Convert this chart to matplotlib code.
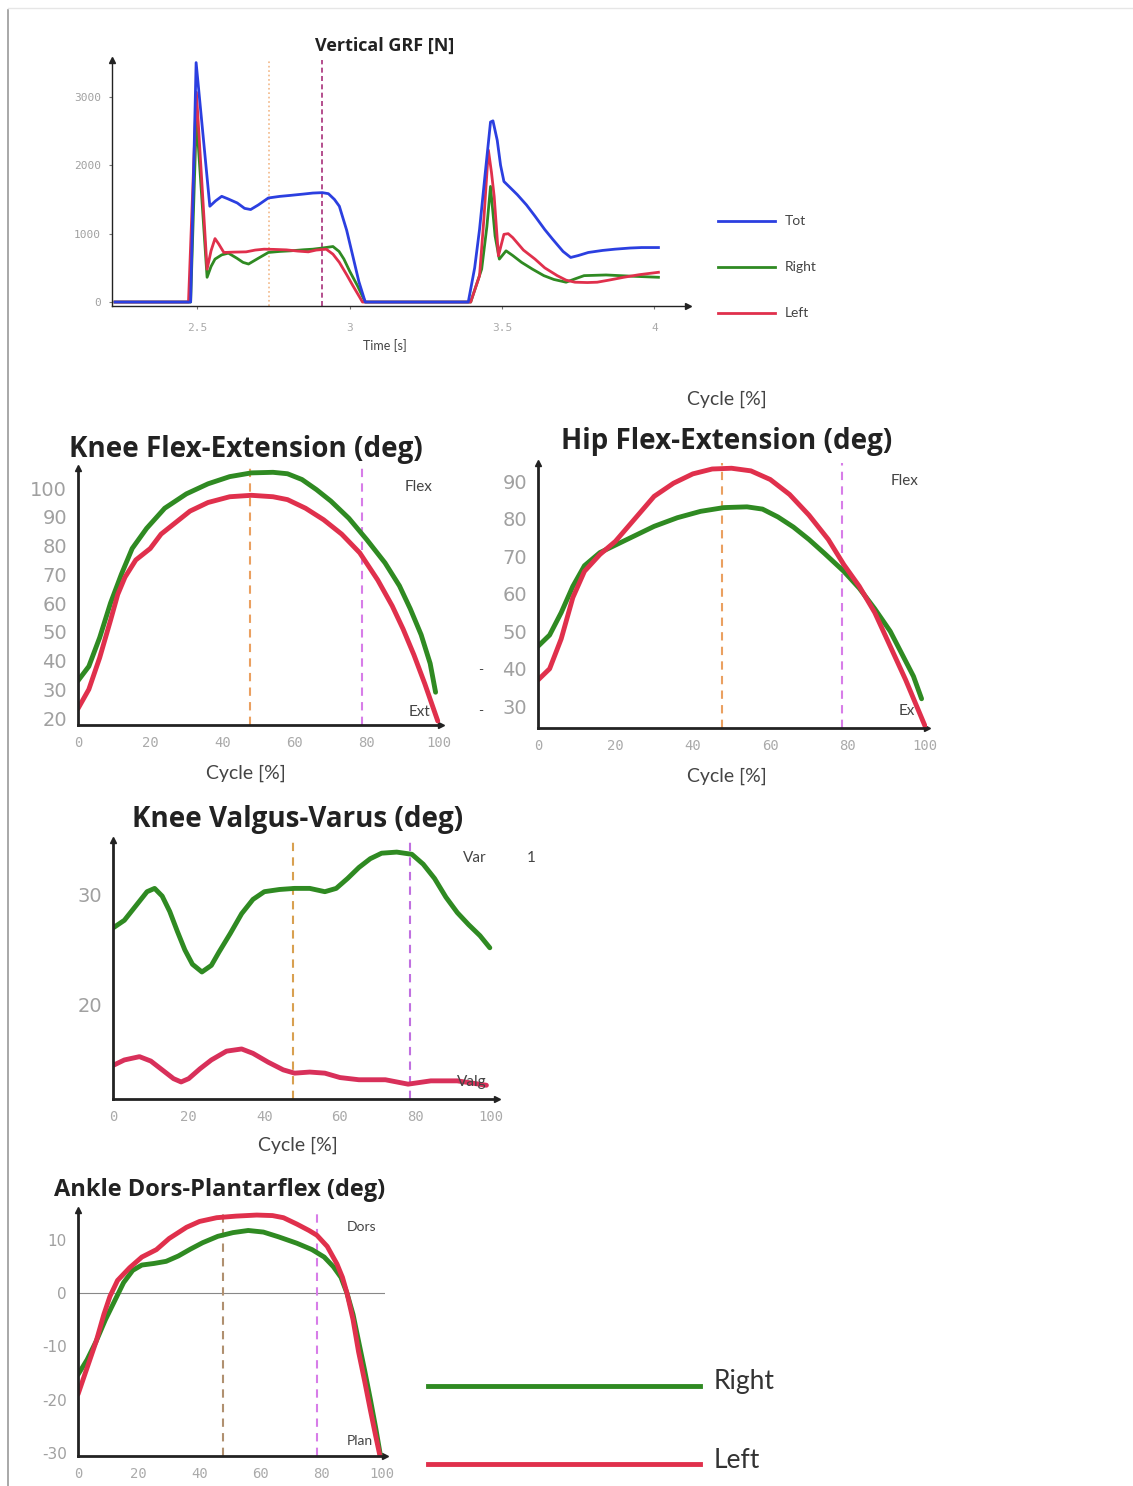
import numpy as np
import matplotlib.pyplot as plt
from matplotlib.lines import Line2D

plt.rcParams['axes.unicode_minus'] = False

# ---- datos ----
# Vertical GRF [N]
t_tot = [2.23, 2.478, 2.496, 2.541, 2.56, 2.58, 2.60, 2.631, 2.655, 2.675, 2.70, 2.733, 2.77, 2.806, 2.85,
         2.879, 2.91, 2.93, 2.95, 2.966, 2.99, 3.01, 3.03, 3.051,
         3.389, 3.41, 3.426, 3.445, 3.462, 3.47, 3.484, 3.495, 3.506, 3.525, 3.55, 3.58, 3.608, 3.64,
         3.666, 3.70, 3.725, 3.75, 3.783, 3.83, 3.87, 3.92, 3.958, 4.013]
f_tot = [0, 0, 3502, 1401, 1480, 1546, 1510, 1449, 1370, 1353, 1420, 1522, 1545, 1560, 1580,
         1594, 1600, 1585, 1500, 1401, 1050, 676, 300, 0,
         0, 500, 1063, 1900, 2633, 2650, 2367, 2000, 1763, 1680, 1570, 1420, 1256, 1060,
         918, 740, 652, 680, 725, 755, 773, 790, 797, 797]
t_left = [2.23, 2.471, 2.497, 2.532, 2.545, 2.558, 2.57, 2.587, 2.62, 2.66, 2.69, 2.719, 2.75, 2.792,
          2.83, 2.864, 2.89, 2.923, 2.945, 2.966, 2.99, 3.01, 3.042,
          3.397, 3.426, 3.44, 3.455, 3.465, 3.474, 3.488, 3.506, 3.52, 3.535, 3.57, 3.608, 3.64, 3.681,
          3.71, 3.739, 3.78, 3.812, 3.85, 3.899, 3.95, 4.013]
f_left = [0, 0, 3068, 480, 750, 928, 850, 725, 730, 734, 760, 773, 770, 763,
          745, 734, 760, 773, 700, 580, 400, 242, 0,
          0, 386, 1200, 2222, 1900, 1546, 676, 990, 1000, 942, 760, 628, 500, 386,
          320, 290, 285, 290, 320, 362, 400, 435]
t_right = [2.23, 2.478, 2.497, 2.532, 2.545, 2.558, 2.58, 2.602, 2.63, 2.65, 2.668, 2.70, 2.733, 2.77,
           2.806, 2.85, 2.879, 2.91, 2.945, 2.965, 2.981, 3.0, 3.025, 3.051,
           3.397, 3.433, 3.45, 3.462, 3.477, 3.491, 3.513, 3.535, 3.564, 3.60, 3.637, 3.67, 3.71, 3.74,
           3.769, 3.841, 3.929, 4.013]
f_right = [0, 0, 2705, 362, 520, 628, 690, 715, 640, 580, 556, 640, 725, 740,
           749, 765, 773, 790, 812, 740, 628, 450, 242, 0,
           0, 483, 1100, 1691, 966, 628, 749, 680, 580, 480, 386, 330, 290, 340,
           386, 396, 377, 362]
grf_events = [2.734, 2.908]

# Knee Flex-Extension
kf_x_r = [0, 3, 6, 9, 12, 15, 19, 24, 30, 36, 42, 48, 54, 58, 62, 66, 70, 75, 80, 85, 89, 92, 95, 97.5, 99]
kf_r = [33, 38, 48, 60, 70, 79, 86, 93, 98, 101.5, 104, 105.3, 105.5, 105, 103, 99.5, 95.5, 89.5, 82,
        74, 66, 58, 49, 39, 29]
kf_x_l = [0, 3, 6, 9, 11, 13, 16, 20, 23, 27, 31, 36, 42, 48, 54, 58, 63, 68, 73, 78, 83, 87, 90, 93,
          96, 99.6]
kf_l = [23.3, 30, 41, 54, 63, 69, 75, 79, 84, 88, 92, 95, 97, 97.5, 97, 96, 93, 89, 84, 77.5, 68, 59,
        51, 42, 32, 19]

# Hip Flex-Extension
hf_x_r = [0, 3, 6, 9, 12, 16, 20, 25, 30, 36, 42, 48, 54, 58, 62, 66, 70, 74, 79, 83, 87, 91, 94, 97, 99.1]
hf_r = [46, 49, 55, 62, 67.5, 71, 73, 75.5, 78, 80.3, 82, 83, 83.2, 82.6, 80.5, 77.8, 74.5, 70.8, 66,
        61.5, 56, 50, 44, 38, 32]
hf_x_l = [0, 3, 6, 9, 12, 16, 20, 25, 30, 35, 40, 45, 50, 55, 60, 65, 70, 75, 79, 83, 87, 91, 95, 100]
hf_l = [37, 40, 48, 59, 66, 70.5, 74, 80, 86, 89.5, 92, 93.3, 93.5, 92.8, 90.5, 86.5, 81, 74.5, 67.8,
        62, 55, 46, 37, 24.7]

# Knee Valgus-Varus
kv_x_r = [0, 3, 6, 9, 11, 13, 15, 17, 19, 21, 23.5, 26, 28, 31, 34, 37, 40, 44, 48, 52, 56, 59, 62, 65,
          68, 71, 75, 79, 82, 85, 88, 91, 94, 97, 99.6]
kv_r = [27, 27.7, 29, 30.3, 30.6, 29.9, 28.5, 26.7, 25, 23.7, 23, 23.6, 24.8, 26.5, 28.3, 29.6, 30.3,
        30.5, 30.6, 30.6, 30.3, 30.6, 31.5, 32.5, 33.3, 33.8, 33.9, 33.7, 32.8, 31.5, 29.8, 28.4, 27.3,
        26.3, 25.2]
kv_x_l = [0, 3, 7, 10, 13, 16, 18, 20, 23, 26, 30, 34, 37, 41, 45, 48, 52, 56, 60, 65, 72, 78, 84, 91, 98.7]
kv_l = [14.5, 15, 15.3, 14.9, 14.1, 13.3, 13, 13.3, 14.2, 15, 15.8, 16, 15.6, 14.8, 14.1, 13.8, 13.9,
        13.8, 13.4, 13.2, 13.2, 12.8, 13.1, 13.1, 12.7]

# Ankle Dors-Plantarflex
an_x_r = [0, 3, 6, 9, 12, 15, 18, 21, 25, 29, 33, 37, 41, 46, 51, 56, 61, 66, 72, 77, 81, 84, 86.5,
          88.5, 90.5, 92.3, 94.3, 96.2, 98, 99.5]
an_r = [-15.3, -12.5, -9, -5, -1.5, 2, 4.3, 5.3, 5.6, 6, 7, 8.3, 9.5, 10.7, 11.4, 11.8, 11.5, 10.6, 9.4,
        8.2, 6.8, 5, 3, 0, -4, -9, -14.5, -20, -25.5, -30.5]
an_x_l = [0, 3, 6, 8.5, 10.5, 13, 17, 21, 25.8, 30, 35.7, 40, 45.6, 52, 58.8, 64, 67.6, 72, 76, 78.6,
          82, 85.2, 87, 88.5, 90.5, 92.3, 94.3, 96.2, 98, 99.5]
an_l = [-19, -14, -9, -4, -0.6, 2.4, 4.8, 6.8, 8.2, 10.3, 12.4, 13.5, 14.2, 14.5, 14.7, 14.6, 14.2, 13,
        11.8, 10.9, 8.8, 5.5, 3, 0, -5, -11, -16.5, -22, -27, -31]

cycle_events = [47.6, 78.6]

C_TOT = '#2b3fe0'
C_R = '#2f8a22'
C_L = '#e0304c'

W, H = 1133, 1486
fig = plt.figure(figsize=(W / 100, H / 100), dpi=100)

TITLE = dict(family='Open Sans', weight='bold', color='#222222', ha='center', va='center')
LAB = dict(family='Lato', color='#444444', ha='center', va='center')


def add_ax(x0, y0, x1, y1):
    return fig.add_axes([x0 / W, 1 - y1 / H, (x1 - x0) / W, (y1 - y0) / H])


def ftxt(x, y, s, **kw):
    fig.text(x / W, 1 - y / H, s, **kw)


def style(ax, xlim, ylim, xt, yt, xfs, yfs, xpad=8, ypad=8):
    ax.set_xlim(*xlim)
    ax.set_ylim(*ylim)
    ax.patch.set_alpha(0)
    for s in ['top', 'right']:
        ax.spines[s].set_visible(False)
    for s in ['left', 'bottom']:
        ax.spines[s].set_color('#222222')
        ax.spines[s].set_linewidth(2)
    ax.plot(1, 0, '>', color='#222222', ms=5, transform=ax.transAxes, clip_on=False)
    ax.plot(0, 1, '^', color='#222222', ms=5, transform=ax.transAxes, clip_on=False)
    ax.set_xticks(xt)
    ax.set_yticks(yt)
    ax.tick_params(axis='x', length=0, colors='#aaaaaa', labelsize=xfs, pad=xpad)
    ax.tick_params(axis='y', length=0, colors='#a0a0a0', labelsize=yfs, pad=ypad)
    for lb in ax.get_xticklabels():
        lb.set_family('DejaVu Sans Mono')


def curve(ax, x, y, c):
    ax.plot(x, y, color=c, lw=3.5, solid_joinstyle='round', solid_capstyle='round')


# borde de la captura
fig.add_artist(Line2D([8 / W, 8 / W], [0, 1 - 10 / H], color='#9a9a9a', lw=1.2))
fig.add_artist(Line2D([8 / W, 1], [1 - 8 / H, 1 - 8 / H], color='#e6e6e6', lw=1))

# ---- Vertical GRF ----
ax = add_ax(112, 60, 688, 306)
style(ax, (2.22, 4.11), (-58, 3540), [2.5, 3, 3.5, 4], [0, 1000, 2000, 3000], 8, 8, xpad=10, ypad=6)
ax.set_xticklabels(['2.5', '3', '3.5', '4'])
for lb in ax.get_yticklabels():
    lb.set_family('DejaVu Sans Mono')
ax.spines['left'].set_linewidth(1)
ax.spines['bottom'].set_linewidth(1)
ax.tick_params(length=2, color='#777777')
ax.axvline(grf_events[0], color='#f2b888', lw=1.2, ls=':')
ax.axvline(grf_events[1], color='#a8307a', lw=1.2, ls=(0, (3, 2)))
ax.plot(t_right, f_right, color=C_R, lw=2, solid_joinstyle='round')
ax.plot(t_left, f_left, color=C_L, lw=2, solid_joinstyle='round')
ax.plot(t_tot, f_tot, color=C_TOT, lw=2, solid_joinstyle='round')
ftxt(385, 46, 'Vertical GRF [N]', fontsize=13, **TITLE)
ftxt(385, 346, 'Time [s]', fontsize=9, **LAB)

grf_names = ['Tot', 'Right', 'Left']
grf_cols = [C_TOT, C_R, C_L]
for i, (nm, c) in enumerate(zip(grf_names, grf_cols)):
    y = 221 + i * 46
    fig.add_artist(Line2D([718 / W, 775 / W], [1 - y / H, 1 - y / H], color=c, lw=2))
    ftxt(785, y, nm, fontsize=10, family='Lato', color='#444444', va='center')

# ---- Knee Flex-Extension ----
ax = add_ax(78, 468, 441, 725)
style(ax, (0, 100.5), (17.6, 107), range(0, 101, 20), range(20, 101, 10), 10, 14)
ax.axvline(cycle_events[0], color='#eaa060', lw=1.5, ls=(0, (4, 3)))
ax.axvline(cycle_events[1], color='#d77de8', lw=1.5, ls=(0, (4, 3)))
curve(ax, kf_x_r, kf_r, C_R)
curve(ax, kf_x_l, kf_l, C_L)
ftxt(246, 449, 'Knee Flex-Extension (deg)', fontsize=20, **TITLE)
ftxt(246, 773, 'Cycle [%]', fontsize=14, **LAB)
ftxt(419, 487, 'Flex', fontsize=11, **LAB)
ftxt(420, 712, 'Ext', fontsize=11, **LAB)

# ---- Hip Flex-Extension ----
ax = add_ax(538, 463, 927, 728)
style(ax, (0, 100.5), (24.2, 94.9), range(0, 101, 20), range(30, 91, 10), 10, 14)
ax.axvline(cycle_events[0], color='#eaa060', lw=1.5, ls=(0, (4, 3)))
ax.axvline(cycle_events[1], color='#d77de8', lw=1.5, ls=(0, (4, 3)))
curve(ax, hf_x_r, hf_r, C_R)
curve(ax, hf_x_l, hf_l, C_L)
ftxt(727, 441, 'Hip Flex-Extension (deg)', fontsize=20, **TITLE)
ftxt(727, 399, 'Cycle [%]', fontsize=14, **LAB)
ftxt(727, 776, 'Cycle [%]', fontsize=14, **LAB)
ftxt(905, 481, 'Flex', fontsize=11, **LAB)
ftxt(907, 711, 'Ex', fontsize=11, **LAB)
ftxt(481, 670, '-', fontsize=10, **LAB)
ftxt(481, 711, '-', fontsize=10, **LAB)

# ---- Knee Valgus-Varus ----
ax = add_ax(113, 840, 497, 1099)
style(ax, (0, 101.5), (11.45, 35), range(0, 101, 20), [20, 30], 10, 14)
ax.axvline(cycle_events[0], color='#d8a050', lw=1.5, ls=(0, (4, 3)))
ax.axvline(cycle_events[1], color='#c070e0', lw=1.5, ls=(0, (4, 3)))
curve(ax, kv_x_r, kv_r, C_R)
curve(ax, kv_x_l, kv_l, '#d8305a')
ftxt(298, 820, 'Knee Valgus-Varus (deg)', fontsize=20, **TITLE)
ftxt(298, 1145, 'Cycle [%]', fontsize=14, **LAB)
ftxt(475, 858, 'Var', fontsize=11, **LAB)
ftxt(531, 858, '1', fontsize=11, **LAB)
ftxt(472, 1082, 'Valg', fontsize=11, **LAB)

# ---- Ankle Dors-Plantarflex ----
ax = add_ax(78, 1210, 385, 1456)
style(ax, (0, 101), (-30.6, 15.65), range(0, 101, 20), range(-30, 11, 10), 10, 11)
ax.axhline(0, color='#888888', lw=0.8)
ax.axvline(cycle_events[0], color='#b09070', lw=1.5, ls=(0, (4, 3)))
ax.axvline(cycle_events[1], color='#d77de8', lw=1.5, ls=(0, (4, 3)))
curve(ax, an_x_r, an_r, C_R)
curve(ax, an_x_l, an_l, C_L)
ftxt(220, 1190, 'Ankle Dors-Plantarflex (deg)', fontsize=17, **TITLE)
ftxt(362, 1227, 'Dors', fontsize=10, **LAB)
ftxt(360, 1441, 'Plan', fontsize=10, **LAB)

# ---- leyenda inferior ----
leg_names = ['Right', 'Left']
leg_cols = [C_R, C_L]
for i, (nm, c) in enumerate(zip(leg_names, leg_cols)):
    y = 1386 + i * 78
    fig.add_artist(Line2D([428 / W, 700 / W], [1 - y / H, 1 - y / H], color=c, lw=3.5))
    ftxt(714, y - 4, nm, fontsize=19, family='Lato', color='#333333', va='center')

plt.savefig('out.png', dpi=100)
